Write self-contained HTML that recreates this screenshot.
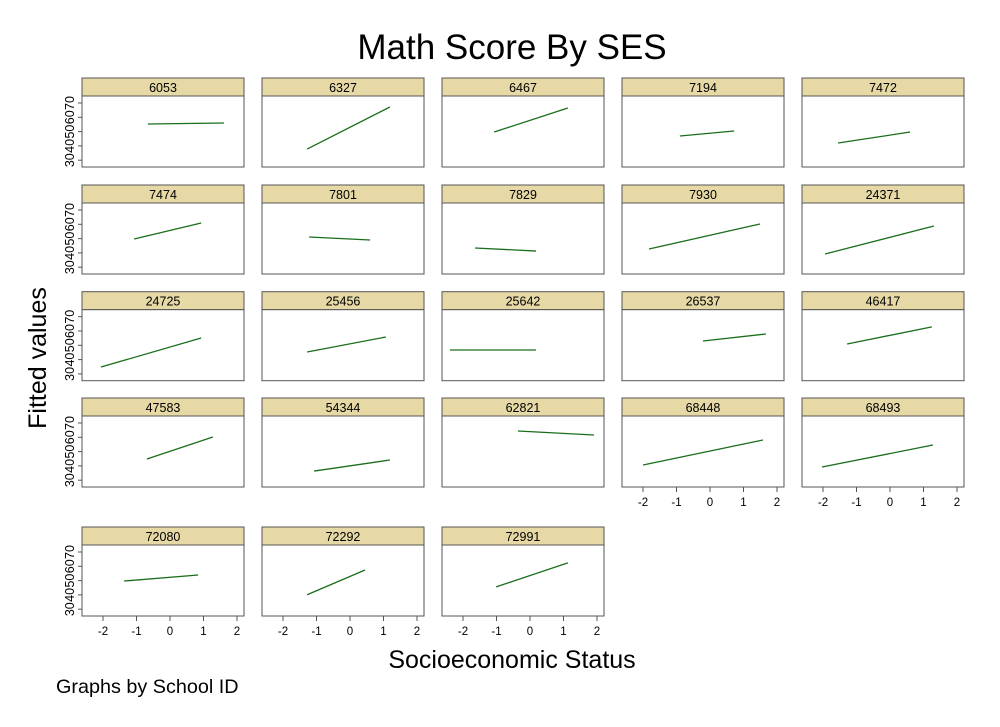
<!DOCTYPE html>
<html><head><meta charset="utf-8"><style>
body{margin:0;background:#fff;}
svg{display:block;font-family:"Liberation Sans",Arial,sans-serif;}
</style></head><body>
<svg id="chart" width="1000" height="727" viewBox="0 0 1000 727" xmlns="http://www.w3.org/2000/svg">
<rect width="1000" height="727" fill="#fff"/>
<text x="512" y="59" font-size="35" text-anchor="middle" fill="#000">Math Score By SES</text>
<text transform="translate(46,358) rotate(-90)" font-size="25" text-anchor="middle" fill="#000">Fitted values</text>
<text x="512" y="668" font-size="25" text-anchor="middle" fill="#000">Socioeconomic Status</text>
<text x="56" y="693" font-size="19.8" fill="#000">Graphs by School ID</text>
<g id="panels"></g>
</svg>
<script>
const schools = ["6053","6327","6467","7194","7472","7474","7801","7829","7930","24371","24725","25456","25642","26537","46417","47583","54344","62821","68448","68493","72080","72292","72991"];
const sesStart = [-0.66,-1.28,-1.07,-0.9,-1.55,-1.07,-1.22,-1.64,-1.82,-1.94,-2.06,-1.28,-2.39,-0.21,-1.28,-0.69,-1.07,-0.36,-2.0,-2.03,-1.37,-1.28,-1.01];
const sesEnd = [1.61,1.19,1.13,0.72,0.6,0.93,0.6,0.18,1.49,1.31,0.93,1.07,0.18,1.67,1.25,1.28,1.19,1.91,1.58,1.28,0.84,0.45,1.13];
const fitStart = [55.3,37.8,49.7,46.9,42.0,49.7,51.1,43.4,42.7,39.2,34.8,45.3,46.7,53.0,50.9,44.8,36.4,64.4,40.6,39.2,49.7,40.1,45.6];
const fitEnd = [56.0,67.2,66.5,50.4,49.7,60.9,49.0,41.3,60.2,58.8,55.1,55.8,46.7,57.9,62.9,60.2,44.1,61.6,58.1,54.6,53.9,57.4,62.4];
const yTicks = [30,40,50,60,70];
const xTicks = [-2,-1,0,1,2];

const NS = "http://www.w3.org/2000/svg";
const g = document.getElementById("panels");
const colLeft = [82,262,442,622,802];
const plotTops = [96,203,309.7,416,545];
const PW = 162, PH = 71, HH = 18;
const xScale = v => 88 + v * 33.5;
const yScale = v => 7 + (70 - v) * 1.43;
function mk(tag, attrs, parent){const e=document.createElementNS(NS,tag);for(const k in attrs)e.setAttribute(k,attrs[k]);(parent||g).appendChild(e);return e;}

schools.forEach((id, i) => {
  const r = Math.floor(i / 5), c = i % 5;
  const L = colLeft[c], T = plotTops[r];
  const p = mk("g", {transform: `translate(${L},${T})`});
  
  
  const hdr = mk("rect", {x:0, y:-HH, width:PW, height:HH, fill:"#e6d9a6", stroke:"#555", "stroke-width":1}, p);
  
  
  const ht = mk("text", {x:PW/2, y:-4, "font-size":12.5, "text-anchor":"middle", fill:"#000"}, p);
  ht.textContent = id;
  
  
  const box = mk("rect", {x:0, y:0, width:PW, height:PH, fill:"#fff", stroke:"#555", "stroke-width":1}, p);
  
  
  const ln = mk("line", {x1:xScale(sesStart[i]), y1:yScale(fitStart[i]), x2:xScale(sesEnd[i]), y2:yScale(fitEnd[i]), stroke:"#1a6e1a", "stroke-width":1.3}, p);
  
  
  if (c === 0) {
    yTicks.forEach(t => {
      const y = yScale(t);
      mk("line", {x1:-4, y1:y, x2:0, y2:y, stroke:"#555"}, p);
      const tx = mk("text", {transform:`translate(-8,${y}) rotate(-90)`, "font-size":12.5, "text-anchor":"middle", fill:"#000"}, p);
      tx.textContent = t;
      
      
    });
  }
  const hasX = (r === 4) || (r === 3 && c >= 3);
  if (hasX) {
    xTicks.forEach(t => {
      const x = xScale(t);
      mk("line", {x1:x, y1:PH, x2:x, y2:PH+5, stroke:"#555"}, p);
      const tx = mk("text", {x:x, y:PH+19, "font-size":11.5, "text-anchor":"middle", fill:"#000"}, p);
      tx.textContent = t;
      
      
    });
  }
});
</script>
</body></html>
